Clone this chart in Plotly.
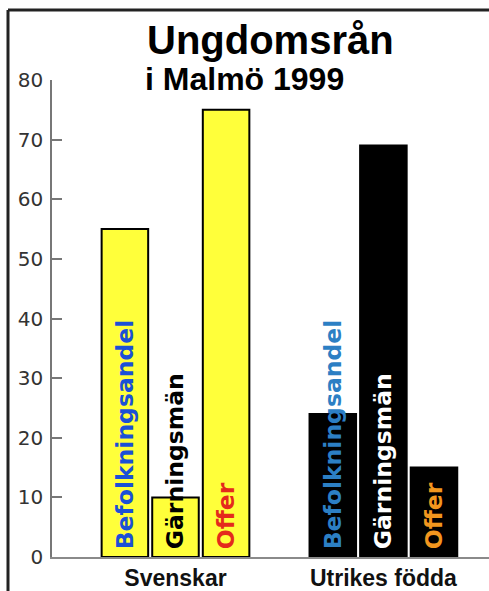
import plotly.graph_objects as go

categories = ["Svenskar", "Utrikes födda"]
series_names = ["Befolkningsandel", "Gärningsmän", "Offer"]
befolkningsandel = [55, 24]
garningsman = [10, 69]
offer = [75, 15]
y_ticks = [0, 10, 20, 30, 40, 50, 60, 70, 80]
title_text = "Ungdomsrån"
subtitle_text = "i Malmö 1999"

values = [befolkningsandel, garningsman, offer]
bar_fill = ["#ffff3a", "#000000"]
text_colors = [
    ["#1b50d6", "#2c7fc4"],
    ["#000000", "#ffffff"],
    ["#e42a1c", "#f2961e"],
]

W, H = 489, 591
# target plot box in window pixels
plot_left, plot_right, plot_top, plot_bottom = 52, 489, 80, 557
ml, mr, mt, mb = plot_left, W - plot_right, plot_top, H - plot_bottom
pw, ph = W - ml - mr, H - mt - mb

def px_x(px):
    return (px - ml) / pw

def px_y(py):
    return (plot_bottom - py) / ph

fig = go.Figure()
for name, vals, tcol in zip(series_names, values, text_colors):
    fig.add_trace(go.Bar(
        x=categories, y=vals, name=name,
        marker=dict(color=bar_fill, line=dict(color="#000000", width=2)),
        text=["\u2009" + name] * len(vals),
        textposition="inside",
        insidetextanchor="start",
        textangle=-90,
        constraintext="none",
        cliponaxis=False,
        textfont=dict(family="DejaVu Sans", size=23.5, color=tcol, weight="bold"),
        hoverinfo="skip",
    ))

fig.update_layout(
    width=W, height=H,
    margin=dict(l=ml, r=mr, t=mt, b=mb, pad=0, autoexpand=False),
    paper_bgcolor="white", plot_bgcolor="white",
    barmode="group", bargap=0.27, bargroupgap=0.08,
    showlegend=False,
    font=dict(family="DejaVu Sans", color="#333333"),
    xaxis=dict(
        range=[-0.594, 1.508], showgrid=False, zeroline=False, automargin=False,
        showline=True, linecolor="#8a8a8a", linewidth=1.5,
        ticks="", ticklabelstandoff=0,
        tickfont=dict(family="Liberation Sans", size=23, color="#111111", weight="bold"),
    ),
    yaxis=dict(
        range=[0, 80], tickvals=y_ticks, showgrid=False, zeroline=False, automargin=False,
        showline=True, linecolor="#777777", linewidth=1.5,
        ticks="inside", ticklen=10, tickwidth=1.5, tickcolor="#777777",
        ticklabelstandoff=3,
        tickfont=dict(family="DejaVu Sans", size=20, color="#333333"),
    ),
    annotations=[
        dict(text=title_text, xref="paper", yref="paper", x=px_x(145), y=px_y(40),
             xanchor="left", yanchor="middle", showarrow=False,
             font=dict(family="Liberation Sans", size=40, color="#000000", weight="bold")),
        dict(text=subtitle_text, xref="paper", yref="paper", x=px_x(143), y=px_y(79),
             xanchor="left", yanchor="middle", showarrow=False,
             font=dict(family="Liberation Sans", size=32, color="#000000", weight="bold")),
    ],
    shapes=[
        dict(type="line", xref="paper", yref="paper", x0=px_x(8), x1=px_x(W + 5),
             y0=px_y(10), y1=px_y(10), line=dict(color="#222222", width=3)),
        dict(type="line", xref="paper", yref="paper", x0=px_x(8), x1=px_x(8),
             y0=px_y(10), y1=px_y(H + 5), line=dict(color="#222222", width=3)),
    ],
)

fig.write_html(
    "out.html",
    config={"displayModeBar": False},
    post_script="document.body.style.margin='0';document.body.style.overflow='hidden';",
)
